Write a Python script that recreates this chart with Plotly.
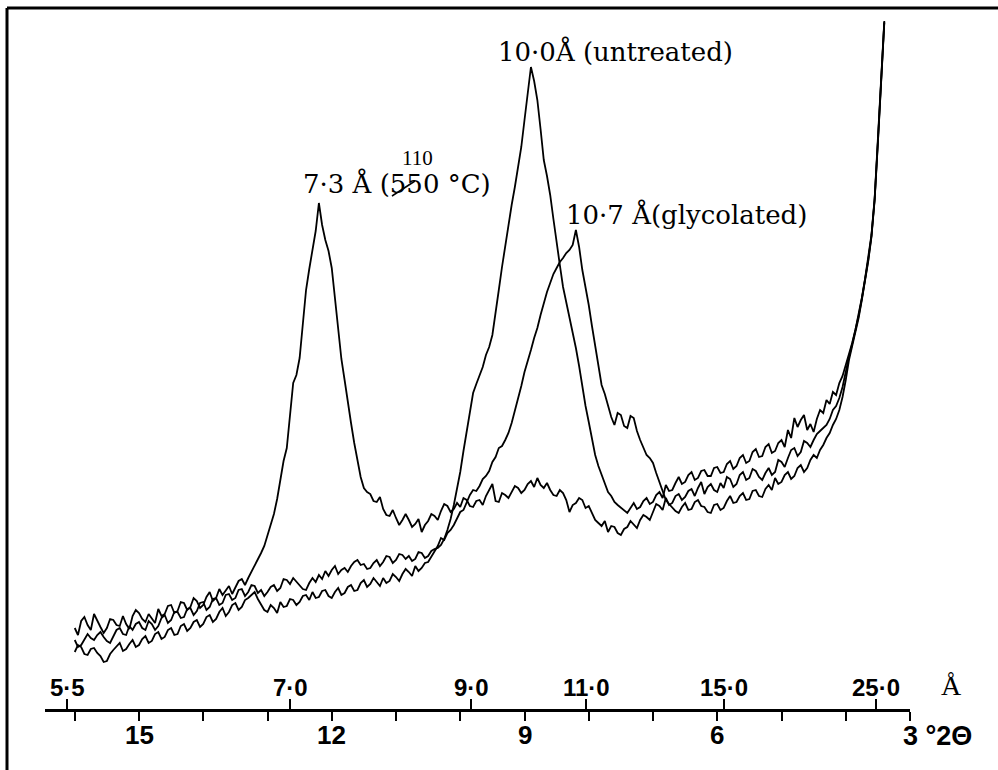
import numpy as np
import plotly.graph_objects as go

# ---- data -------------------------------------------------------------
# step scan in degrees 2-theta (Cu K-alpha), 16.00 down to 3.40 in 0.05 steps
two_theta = np.round(np.arange(16.0, 3.375, -0.05), 2)

# intensities (arbitrary counts)
heated_550C = [
    81, 74, 88, 92, 84, 79, 95, 88, 82, 76,
    81, 90, 89, 84, 83, 93, 85, 80, 93, 99,
    96, 90, 87, 95, 91, 86, 100, 93, 95, 103,
    104, 96, 98, 107, 106, 99, 102, 111, 108, 101,
    104, 112, 117, 108, 111, 120, 114, 118, 123, 115,
    121, 128, 130, 124, 131, 137, 144, 149, 156, 163,
    174, 184, 195, 210, 227, 248, 261, 292, 326, 334,
    351, 385, 419, 440, 458, 478, 506, 484, 469, 458,
    441, 410, 376, 350, 329, 305, 286, 266, 249, 232,
    221, 217, 215, 208, 207, 212, 200, 194, 193, 199,
    191, 184, 189, 195, 189, 182, 185, 190, 177, 184,
    188, 195, 193, 189, 198, 205, 203, 197, 200, 206,
    202, 211, 209, 203, 202, 208, 209, 204, 213, 219,
    225, 208, 207, 216, 214, 211, 217, 223, 221, 216,
    219, 225, 228, 222, 231, 224, 221, 226, 219, 214,
    213, 219, 216, 209, 197, 204, 206, 211, 209, 201,
    203, 196, 189, 186, 183, 188, 177, 183, 182, 176,
    174, 180, 182, 188, 184, 181, 189, 194, 192, 189,
    197, 205, 203, 199, 211, 204, 206, 213, 215, 209,
    212, 218, 220, 213, 221, 227, 215, 222, 225, 219,
    217, 226, 221, 232, 230, 222, 225, 234, 237, 229,
    231, 240, 238, 232, 229, 236, 241, 234, 237, 249,
    247, 242, 251, 259, 261, 253, 257, 268, 266, 262,
    269, 275, 278, 281, 284, 290, 299, 303, 311, 322,
    339, 352, 365, 378, 393, 410, 429, 449, 473, 510,
    567, 625, 687,
]

untreated = [
    69, 62, 64, 70, 75, 71, 69, 74, 77, 72,
    68, 66, 73, 79, 81, 75, 74, 83, 79, 85,
    87, 81, 79, 88, 85, 79, 83, 91, 94, 86,
    89, 97, 97, 91, 92, 100, 101, 94, 98, 106,
    107, 99, 102, 110, 111, 104, 106, 114, 115, 109,
    111, 119, 120, 113, 117, 124, 123, 116, 119, 113,
    117, 122, 124, 118, 121, 130, 129, 125, 131, 127,
    124, 120, 119, 126, 131, 127, 134, 130, 138, 133,
    139, 143, 135, 139, 141, 137, 143, 147, 149, 144,
    145, 140, 141, 146, 149, 143, 147, 153, 152, 146,
    149, 155, 154, 150, 153, 148, 150, 157, 156, 151,
    153, 158, 160, 161, 164, 170, 179, 190, 204, 220,
    237, 258, 279, 300, 316, 325, 334, 342, 354, 362,
    374, 395, 419, 442, 464, 485, 504, 522, 541, 562,
    589, 616, 642, 628, 609, 580, 549, 533, 514, 490,
    464, 444, 422, 407, 391, 374, 361, 343, 321, 303,
    287, 269, 254, 243, 234, 224, 217, 213, 207, 204,
    201, 198, 196, 201, 206, 200, 202, 208, 211, 205,
    207, 214, 217, 211, 224, 218, 219, 226, 232, 225,
    227, 234, 237, 229, 231, 238, 239, 233, 233, 241,
    242, 236, 237, 245, 248, 240, 243, 251, 254, 246,
    248, 257, 260, 252, 253, 262, 265, 256, 258, 266,
    269, 262, 279, 271, 291, 282, 289, 294, 279, 285,
    277, 290, 299, 296, 309, 305, 317, 314, 326, 333,
    344, 354, 366, 379, 394, 411, 430, 450, 474, 511,
    568, 626, 688,
]

glycolated = [
    57, 64, 62, 55, 54, 60, 61, 56, 53, 47,
    48, 55, 59, 63, 66, 58, 60, 65, 69, 62,
    64, 70, 73, 66, 68, 75, 77, 70, 72, 79,
    81, 74, 75, 83, 85, 78, 81, 87, 89, 82,
    85, 92, 94, 87, 90, 97, 101, 93, 97, 104,
    106, 99, 102, 109, 111, 114, 117, 110, 105, 99,
    97, 104, 101, 96, 107, 102, 103, 110, 109, 104,
    107, 113, 114, 109, 117, 111, 112, 118, 119, 113,
    111, 117, 121, 114, 116, 122, 124, 118, 119, 126,
    129, 122, 125, 131, 127, 123, 131, 126, 128, 135,
    132, 128, 135, 140, 137, 133, 143, 138, 141, 146,
    147, 152, 157, 163, 171, 169, 176, 179, 184, 190,
    197, 199, 206, 214, 219, 218, 223, 230, 233, 238,
    247, 252, 261, 263, 269, 276, 286, 298, 311, 323,
    337, 347, 359, 371, 381, 394, 406, 417, 426, 435,
    441, 447, 451, 456, 459, 464, 479, 462, 439, 423,
    404, 383, 364, 344, 324, 315, 304, 292, 284, 296,
    294, 283, 281, 293, 291, 278, 269, 262, 254, 251,
    246, 236, 227, 217, 209, 205, 201, 198, 196, 202,
    206, 199, 200, 207, 209, 203, 202, 197, 196, 204,
    205, 199, 201, 208, 213, 206, 207, 213, 216, 209,
    210, 218, 219, 213, 212, 220, 224, 219, 231, 225,
    227, 234, 237, 230, 233, 241, 244, 237, 241, 249,
    254, 251, 259, 264, 271, 276, 284, 290, 299, 312,
    329, 349, 363, 377, 391, 409, 428, 448, 472, 509,
    566, 624, 686,
]

# lower scale: degrees 2-theta
deg_ticks = [16, 15, 14, 13, 12, 11, 10, 9, 8, 7, 6, 5, 4, 3]
deg_labels = ["15", "12", "9", "6"]
deg_label_vals = [15, 12, 9, 6]
deg_end_label = "3 °2Θ"

# upper scale: d-spacing in Angstrom
d_values = [5.5, 7.0, 9.0, 11.0, 15.0, 25.0]
d_labels = ["5·5", "7·0", "9·0", "11·0", "15·0", "25·0"]
WAVELENGTH = 1.5418  # Cu K-alpha, Angstrom

peak_labels = ["10·0Å (untreated)", "7·3 Å (550 °C)", "10·7 Å(glycolated)"]
correction_note = "110"


def d_to_2theta(d):
    return float(2 * np.degrees(np.arcsin(WAVELENGTH / (2 * d))))


d_pos = [d_to_2theta(d) for d in d_values]

# ---- figure -----------------------------------------------------------
SANS = "Liberation Sans"
SERIF = "DejaVu Serif"
line_style = dict(color="black", width=1.8)
x_range = [3 + 865 / 64.25, 3.0]

fig = go.Figure()
fig.add_trace(go.Scatter(x=two_theta, y=heated_550C, mode="lines", line=line_style,
                         name="550 °C", hoverinfo="skip"))
fig.add_trace(go.Scatter(x=two_theta, y=untreated, mode="lines", line=line_style,
                         name="untreated", hoverinfo="skip"))
fig.add_trace(go.Scatter(x=two_theta, y=glycolated, mode="lines", line=line_style,
                         name="glycolated", hoverinfo="skip", xaxis="x2"))

annotations = []
for lab, pos in zip(d_labels, d_pos):
    annotations.append(dict(x=pos, xref="x", y=0, yref="paper", text="<b>%s</b>" % lab,
                            showarrow=False, xanchor="center", yanchor="middle", yshift=22,
                            font=dict(family=SANS, size=24, color="black")))
annotations.append(dict(x=(951 - 45) / 865, xref="paper", y=0, yref="paper", text="Å",
                        showarrow=False, xanchor="center", yanchor="middle", yshift=24,
                        font=dict(family="Liberation Serif", size=28, color="black")))
for lab, val in zip(deg_labels, deg_label_vals):
    annotations.append(dict(x=val, xref="x", y=0, yref="paper", text="<b>%s</b>" % lab,
                            showarrow=False, xanchor="center", yanchor="middle", yshift=-26,
                            font=dict(family=SANS, size=26, color="black")))
annotations.append(dict(x=3, xref="x", y=0, yref="paper", text="<b>%s</b>" % deg_end_label,
                        showarrow=False, xanchor="left", xshift=-9, yanchor="middle", yshift=-27,
                        font=dict(family=SANS, size=27, color="black")))

peak_pos = [(7.576, 658), (10.99, 526), (6.48, 495)]
for lab, (px, py) in zip(peak_labels, peak_pos):
    annotations.append(dict(x=px, xref="x", y=py, yref="y", text=lab, showarrow=False,
                            xanchor="center", yanchor="middle",
                            font=dict(family=SERIF, size=26, color="black")))
annotations.append(dict(x=10.67, xref="x", y=551, yref="y", text=correction_note, showarrow=False,
                        xanchor="center", yanchor="middle",
                        font=dict(family="Liberation Serif", size=21, color="black")))

shapes = [
    # frame
    dict(type="line", xref="paper", yref="paper", x0=(7 - 45) / 865, x1=(998 - 45) / 865,
         y0=(709 - 8) / 700, y1=(709 - 8) / 700, line=dict(color="black", width=3)),
    dict(type="line", xref="paper", yref="paper", x0=(7 - 45) / 865, x1=(7 - 45) / 865,
         y0=(709 - 772) / 700, y1=(709 - 8) / 700, line=dict(color="black", width=3)),
    # hand-written strike through "55"
    dict(type="line", xref="paper", yref="paper", x0=(392 - 45) / 865, x1=(415 - 45) / 865,
         y0=(709 - 196) / 700, y1=(709 - 181) / 700, line=dict(color="black", width=1.5)),
]

fig.update_layout(
    width=998, height=770,
    margin=dict(l=45, r=88, t=9, b=61),
    plot_bgcolor="white", paper_bgcolor="white",
    showlegend=False,
    xaxis=dict(range=x_range, showgrid=False, zeroline=False, showline=True,
               linecolor="black", linewidth=3, ticks="outside", ticklen=9, tickwidth=2,
               tickcolor="black", tickvals=deg_ticks, showticklabels=False),
    xaxis2=dict(range=x_range, overlaying="x", anchor="y", side="bottom", showgrid=False,
                zeroline=False, showline=False, ticks="inside", ticklen=10, tickwidth=2,
                tickcolor="black", tickvals=d_pos, showticklabels=False),
    yaxis=dict(range=[0, 700], visible=False),
    annotations=annotations,
    shapes=shapes,
)

fig.write_html("out.html")
